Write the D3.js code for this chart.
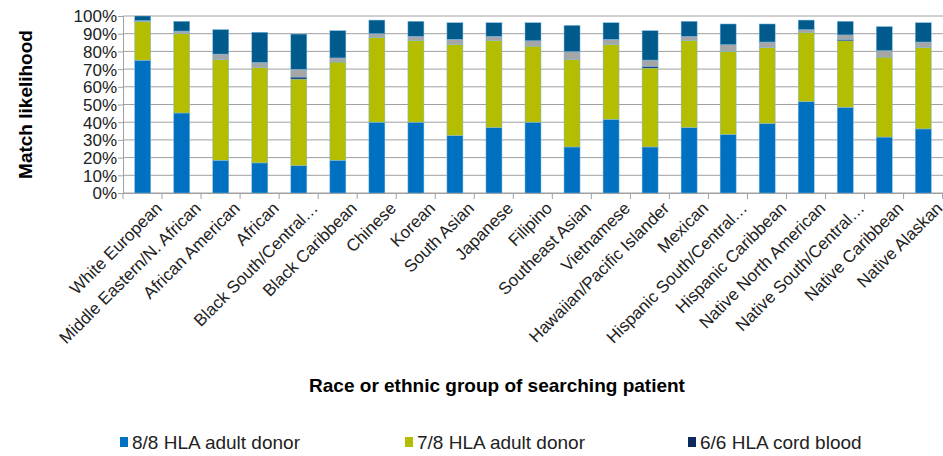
<!DOCTYPE html>
<html><head><meta charset="utf-8">
<script src="https://cdn.jsdelivr.net/npm/d3@7"></script>
<style>body{margin:0;background:#fff}text{font-family:"Liberation Sans",Arial,sans-serif}</style>
</head><body>
<script>
const categories = ["White European","Middle Eastern/N. African","African American","African","Black South/Central…","Black Caribbean","Chinese","Korean","South Asian","Japanese","Filipino","Southeast Asian","Vietnamese","Hawaiian/Pacific Islander","Mexican","Hispanic South/Central…","Hispanic Caribbean","Native North American","Native South/Central…","Native Caribbean","Native Alaskan"];
const adult88 = [75,45.2,18.5,17,15.4,18.5,40,40,32.4,36.9,40,26,41.6,26,36.9,33.1,39.2,51.6,48.4,31.6,36.2];
const adult78 = [22,44.8,56.8,53.8,49,55.5,47.8,46.3,51.6,49.4,43,49.3,42.4,44.6,49.4,46.9,43.1,39.2,37.6,45.2,46.1];
const cord66 = [0,0,0,0,1.1,0,0,0,0,0,0,0,0,1,0,0,0,0,0.8,0,0];
const cord54 = [0.4,1.5,3.2,3,4.4,2.3,2.2,2.2,2.8,2.2,3,4.5,2.8,3.5,2.2,3.8,3,1.5,2.5,3.6,3];
const cord44 = [2.6,5.5,13.8,17,19.9,15.4,7.7,8.5,9.4,7.7,10.2,14.9,9.4,16.6,8.5,11.7,10.2,5.4,7.7,13.6,10.9];
const seriesNames = ["8/8 HLA adult donor","7/8 HLA adult donor","6/6 HLA cord blood","5/6 HLA cord blood","4/6 HLA cord blood"];
const colors = ["#0070c0","#b5bd00","#0d2a5c","#a6a6a6","#005a8c"];
const yTicks = d3.range(0,101,10);

const W = 943, H = 456;
const m = {left:123, right:0, top:16, bottom:263};
const svg = d3.select("body").append("svg").attr("width",W).attr("height",H);
const x = d3.scaleBand().domain(categories).range([m.left, W - m.right]).paddingInner(0.59).paddingOuter(0.3);
const y = d3.scaleLinear().domain([0,100]).range([H - m.bottom, m.top]);

svg.append("g").selectAll("line").data(yTicks).join("line")
  .attr("x1",m.left).attr("x2",W).attr("y1",d=>y(d)).attr("y2",d=>y(d))
  .attr("stroke","#a0a0a0").attr("stroke-width",1);

const rows = categories.map((c,i)=>({cat:c, s0:adult88[i], s1:adult78[i], s2:cord66[i], s3:cord54[i], s4:cord44[i]}));
const stack = d3.stack().keys(["s0","s1","s2","s3","s4"])(rows);
svg.append("g").selectAll("g").data(stack).join("g").attr("fill",(d,i)=>colors[i])
  .selectAll("rect").data(d=>d).join("rect")
  .attr("x",d=>x(d.data.cat)).attr("width",x.bandwidth())
  .attr("y",d=>y(d[1])).attr("height",d=>Math.max(0,y(d[0])-y(d[1])))
  .attr("stroke",(d)=> (d[1]-d[0])>0 ? "#7fb8e0" : "none").attr("stroke-width",0.5);

const ya = svg.append("g").attr("transform",`translate(${m.left},0)`)
  .call(d3.axisLeft(y).tickValues(yTicks).tickFormat(d=>d+"%").tickSize(5));
ya.select(".domain").attr("stroke","#a0a0a0");
ya.selectAll("line").attr("stroke","#a0a0a0");
ya.selectAll("text").attr("font-size",17).attr("fill","#222").attr("dy","0.35em").attr("x",-6);

const xa = svg.append("g").attr("transform",`translate(0,${y(0)})`)
  .call(d3.axisBottom(x).tickSize(0).tickFormat(d=>d));
xa.select(".domain").attr("stroke","#a0a0a0");
const step = x.step();
svg.append("g").selectAll("line").data(d3.range(categories.length+1)).join("line")
  .attr("x1",i=>m.left+i*step).attr("x2",i=>m.left+i*step)
  .attr("y1",y(0)).attr("y2",y(0)+6).attr("stroke","#a0a0a0");
xa.selectAll("text").attr("font-size",17).attr("fill","#222")
  .attr("text-anchor","end").attr("dy","0.35em")
  .attr("transform",`translate(${x.bandwidth()/2+8},12) rotate(-45)`).attr("x",0).attr("y",0);

svg.append("text").attr("transform",`translate(32,${(y(0)+y(100))/2}) rotate(-90)`)
  .attr("text-anchor","middle").attr("font-size",19).attr("font-weight","bold").text("Match likelihood");
svg.append("text").attr("x",497).attr("y",392).attr("text-anchor","middle")
  .attr("font-size",19).attr("font-weight","bold").text("Race or ethnic group of searching patient");

const legX = [120,405,688];
const lg = svg.append("g").selectAll("g").data(seriesNames.slice(0,3)).join("g")
  .attr("transform",(d,i)=>`translate(${legX[i]},442)`);
lg.append("rect").attr("x",0).attr("y",-5).attr("width",8).attr("height",10).attr("fill",(d,i)=>colors[i]);
lg.append("text").attr("x",12).attr("dy","0.35em").attr("font-size",19).attr("fill","#222").text(d=>d);
</script>
</body></html>
